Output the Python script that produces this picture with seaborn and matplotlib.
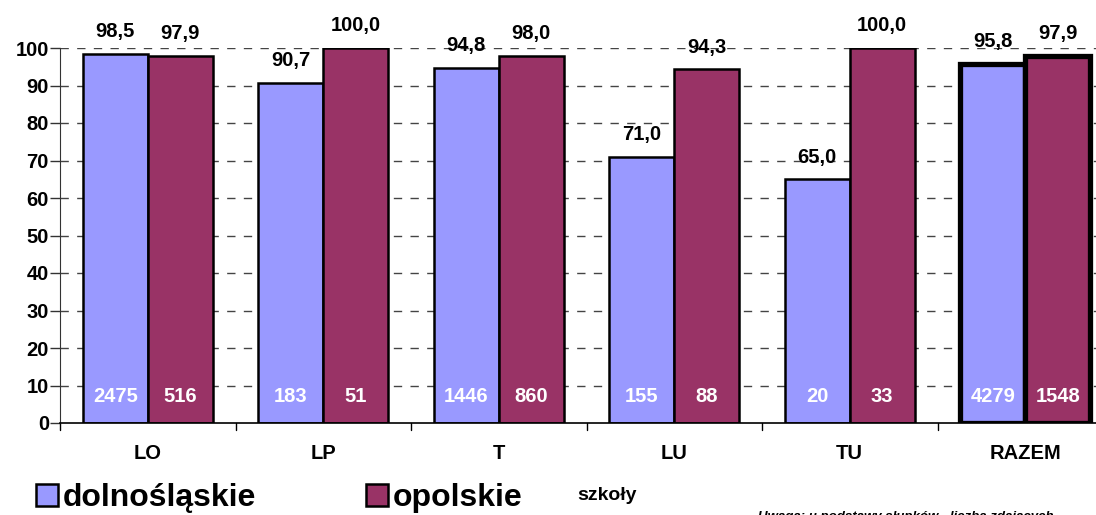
import matplotlib
matplotlib.use("Agg")
import matplotlib.pyplot as plt
import seaborn as sns
import pandas as pd
import numpy as np
from matplotlib.patches import Patch

categories = ["LO", "LP", "T", "LU", "TU", "RAZEM"]
series_names = ["dolnośląskie", "opolskie"]
dolnoslaskie = [98.5, 90.7, 94.8, 71.0, 65.0, 95.8]
opolskie = [97.9, 100.0, 98.0, 94.3, 100.0, 97.9]
counts_dol = [2475, 183, 1446, 155, 20, 4279]
counts_opo = [516, 51, 860, 88, 33, 1548]
colors = ["#9999FF", "#993366"]

df = pd.DataFrame({
    "typ": categories * 2,
    "woj": [series_names[0]] * 6 + [series_names[1]] * 6,
    "val": dolnoslaskie + opolskie,
    "n": counts_dol + counts_opo,
})

sns.set_style("white")
plt.rcParams['font.family'] = ['Liberation Sans', 'DejaVu Sans']
plt.rcParams['text.color'] = 'black'
plt.rcParams['xtick.color'] = 'black'
plt.rcParams['ytick.color'] = 'black'
plt.rcParams['axes.labelcolor'] = 'black'

fig = plt.figure(figsize=(10.96, 5.15), dpi=100)
ax = fig.add_axes([60/1096, 92/515, 1053/1096, 375/515])

sns.barplot(data=df, x="typ", y="val", hue="woj", order=categories,
            hue_order=series_names, palette=colors, width=0.74,
            edgecolor="black", linewidth=1.8, saturation=1, legend=False, ax=ax)

ax.set_xlim(-0.5, 5.5)
ax.set_ylim(0, 100)
ax.set_yticks(np.arange(0, 101, 10))
for y in range(10, 101, 10):
    ax.axhline(y, color="#444444", lw=1, ls=(0, (6, 6)), zorder=0)

ax.set_xticks(range(6))
ax.set_xticklabels(categories, fontsize=14.5, fontweight="bold")
ax.tick_params(axis="x", length=0, pad=15)
for b in np.arange(-0.5, 6, 1):
    ax.plot([b, b], [0, -1.9], color="black", lw=1, clip_on=False)
ax.set_yticklabels([str(v) for v in range(0, 101, 10)], fontsize=14.5, fontweight="bold")
ax.tick_params(axis="y", length=7, width=1, color="#333333", direction="out", left=True, pad=1)

for s in ["top", "right"]:
    ax.spines[s].set_visible(False)
ax.spines["left"].set_color("#333333")
ax.spines["bottom"].set_color("black")
ax.spines["bottom"].set_linewidth(1.2)
ax.set_xlabel("")
ax.set_ylabel("")

# labels
containers = ax.containers
for ci, cont in enumerate(containers):
    vals = dolnoslaskie if ci == 0 else opolskie
    ns = counts_dol if ci == 0 else counts_opo
    for i, bar in enumerate(cont):
        cx = bar.get_x() + bar.get_width() / 2
        ax.annotate(f"{vals[i]:.1f}".replace(".", ","), (cx, vals[i]),
                    xytext=(0, 9), textcoords="offset points", ha="center",
                    va="bottom", fontsize=14.5, fontweight="bold", annotation_clip=False)
        ax.text(cx, 7.2, str(ns[i]), ha="center", va="center", color="white",
                fontsize=14.5, fontweight="bold")
        if i == 5:
            bar.set_linewidth(3.8)

fig.text(577/1096, 1 - 495/515, "szkoły", fontsize=14, fontweight="bold", va="center", ha="left")

handles = [Patch(facecolor=colors[0], edgecolor="black", lw=1.8),
           Patch(facecolor=colors[1], edgecolor="black", lw=1.8)]
leg = fig.legend(handles, series_names, loc="center left",
                 bbox_to_anchor=(36/1096, 1 - 498/515), ncol=2, frameon=False,
                 prop={"family": ["Liberation Sans Narrow", "Liberation Sans"], "weight": "bold", "size": 23},
                 handlelength=0.68, handleheight=0.68, handletextpad=0.15, columnspacing=3.45,
                 borderpad=0, borderaxespad=0)

fig.text(758/1096, 1 - 511/515, "Uwaga: u podstawy słupków - liczba zdających",
         fontsize=9.5, fontweight="bold", style="italic", va="top", ha="left")

fig.savefig("out.png", dpi=100)
